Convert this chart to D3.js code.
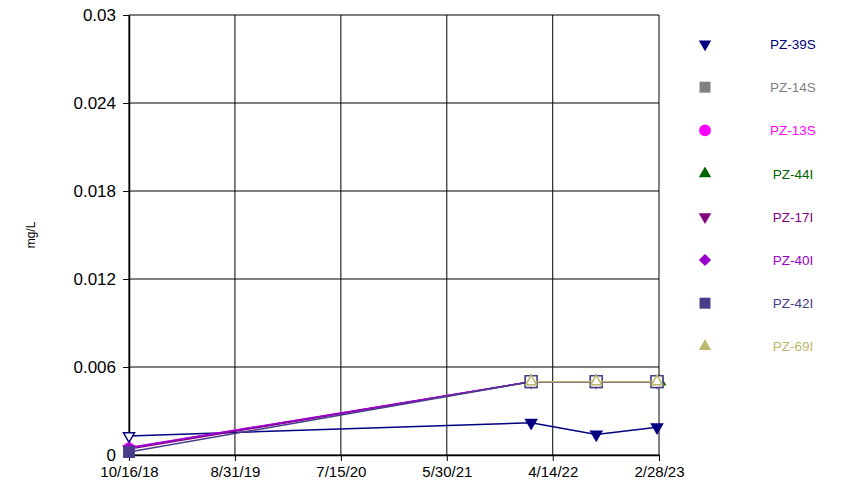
<!DOCTYPE html>
<html>
<head>
<meta charset="utf-8">
<script src="https://cdn.jsdelivr.net/npm/d3@7"></script>
<style>
  body { margin: 0; background: #fff; }
  text { font-family: "Liberation Sans", Arial, sans-serif; }
</style>
</head>
<body>
<svg width="850" height="489"></svg>
<script>
// tick labels
const xTickLabels = ['10/16/18', '8/31/19', '7/15/20', '5/30/21', '4/14/22', '2/28/23'];
const yTicks = [0, 0.006, 0.012, 0.018, 0.024, 0.03];
const yLabel = 'mg/L';

// series names, colors, marker shapes
const seriesNames = ['PZ-39S', 'PZ-14S', 'PZ-13S', 'PZ-44I', 'PZ-17I', 'PZ-40I', 'PZ-42I', 'PZ-69I'];
const seriesColors = ['#000080', '#808080', '#ff00ff', '#006400', '#800080', '#9900cc', '#483d8b', '#bdb76b'];
const seriesShapes = ['tridown', 'square', 'circle', 'triangle', 'tridown', 'diamond', 'square', 'triangle'];

// values: [date, value, detected]
const pz39S = [['10/16/18', 0.0013, false], ['2/8/22', 0.0022, true], ['8/23/22', 0.0014, true], ['2/22/23', 0.0019, true]];
const pz14S = [['2/8/22', 0.005, false], ['8/23/22', 0.005, false], ['2/22/23', 0.005, false]];
const pz13S = [['10/16/18', 0.0005, true], ['2/8/22', 0.005, false], ['8/23/22', 0.005, false], ['2/22/23', 0.005, false]];
const pz44I = [['2/8/22', 0.005, false], ['8/23/22', 0.005, false], ['3/2/23', 0.005, true]];
const pz17I = [['10/16/18', 0.0004, true], ['2/8/22', 0.005, false], ['8/23/22', 0.005, false], ['2/22/23', 0.005, false]];
const pz40I = [['10/16/18', 0.0005, true], ['2/8/22', 0.005, false], ['8/23/22', 0.005, false], ['2/22/23', 0.005, false]];
const pz42I = [['10/16/18', 0.0002, true], ['2/8/22', 0.005, false], ['8/23/22', 0.005, false], ['2/22/23', 0.005, false]];
const pz69I = [['2/8/22', 0.005, false], ['8/23/22', 0.005, false], ['2/22/23', 0.005, false]];
const seriesData = [pz39S, pz14S, pz13S, pz44I, pz17I, pz40I, pz42I, pz69I];

const margin = { left: 129, right: 191, top: 15, bottom: 34 };
const svg = d3.select('svg');
const width = +svg.attr('width');
const height = +svg.attr('height');
const innerWidth = width - margin.left - margin.right;
const innerHeight = height - margin.top - margin.bottom;
const parse = d3.timeParse('%m/%d/%y');

const g = svg.append('g').attr('transform', `translate(${margin.left},${margin.top})`);

const xScale = d3.scaleTime()
  .domain([parse(xTickLabels[0]), parse(xTickLabels[xTickLabels.length - 1])])
  .range([0, innerWidth]);
const yScale = d3.scaleLinear().domain([0, 0.03]).range([innerHeight, 0]);

// grid
g.selectAll('.vgrid').data(xTickLabels).enter().append('line')
  .attr('x1', d => xScale(parse(d))).attr('x2', d => xScale(parse(d)))
  .attr('y1', 0).attr('y2', innerHeight)
  .attr('stroke', '#000').attr('stroke-width', 1);
g.selectAll('.hgrid').data(yTicks).enter().append('line')
  .attr('x1', 0).attr('x2', innerWidth)
  .attr('y1', d => yScale(d)).attr('y2', d => yScale(d))
  .attr('stroke', '#000').attr('stroke-width', 1);

// axes
const xAxis = d3.axisBottom(xScale)
  .tickValues(xTickLabels.map(parse))
  .tickFormat((d, i) => xTickLabels[i])
  .tickSize(6).tickPadding(5).tickSizeOuter(0);
const xAxisG = g.append('g').attr('transform', `translate(0,${innerHeight})`).call(xAxis);
xAxisG.selectAll('text').attr('font-size', 15).attr('fill', '#000').attr('font-family', '"Liberation Sans", Arial, sans-serif');

const yAxis = d3.axisLeft(yScale)
  .tickValues(yTicks)
  .tickFormat(d => d === 0 ? '0' : d3.format('.3~f')(d))
  .tickSize(6).tickPadding(7).tickSizeOuter(0);
const yAxisG = g.append('g').call(yAxis);
yAxisG.selectAll('text').attr('font-size', 17).attr('fill', '#000').attr('font-family', '"Liberation Sans", Arial, sans-serif');
g.selectAll('.domain').attr('stroke', '#000').attr('stroke-width', 1.5);
g.selectAll('.tick line').attr('stroke', '#000');

svg.append('text')
  .attr('transform', `translate(35,${margin.top + innerHeight / 2}) rotate(-90)`)
  .attr('text-anchor', 'middle')
  .attr('font-size', 12)
  .text(yLabel);

// marker helper
const symbolPath = (shape, size) => {
  if (shape === 'circle') return d3.symbol(d3.symbolCircle, size)();
  if (shape === 'square' || shape === 'diamond') return d3.symbol(d3.symbolSquare, size)();
  return d3.symbol(d3.symbolTriangle, size)();
};
const shapeRotate = shape => shape === 'tridown' ? 180 : (shape === 'diamond' ? 45 : 0);
const shapeSize = shape => shape === 'diamond' ? 60 : (shape === 'circle' ? 95 : (shape === 'square' ? 140 : 52));
const markSize = (shape, detected) =>
  (detected && (shape === 'tridown' || shape === 'triangle')) ? 80 : shapeSize(shape);

const line = d3.line()
  .x(d => xScale(parse(d[0])))
  .y(d => yScale(d[1]));

seriesData.forEach((data, i) => {
  const color = seriesColors[i];
  const shape = seriesShapes[i];
  g.append('path')
    .attr('d', line(data))
    .attr('fill', 'none')
    .attr('stroke', color)
    .attr('stroke-width', 1.5);
  g.selectAll(`.m${i}`).data(data).enter().append('path')
    .attr('d', d => symbolPath(shape, markSize(shape, d[2])))
    .attr('transform', d => `translate(${xScale(parse(d[0]))},${yScale(d[1])}) rotate(${shapeRotate(shape)})`)
    .attr('fill', d => d[2] ? color : '#fff')
    .attr('stroke', color)
    .attr('stroke-width', d => d[2] ? 0 : 1.5);
});

// legend
const legend = svg.append('g');
seriesNames.forEach((name, i) => {
  const y = 44 + i * 43.2;
  const shape = seriesShapes[i];
  legend.append('path')
    .attr('d', symbolPath(shape, shape === 'square' ? 120 : shapeSize(shape) + 15))
    .attr('transform', `translate(705,${y}) rotate(${shapeRotate(shape)})`)
    .attr('fill', seriesColors[i]);
  legend.append('text')
    .attr('x', 793).attr('y', y + 5)
    .attr('text-anchor', 'middle')
    .attr('font-size', 13.5)
    .attr('fill', seriesColors[i])
    .text(name);
});
</script>
</body>
</html>
